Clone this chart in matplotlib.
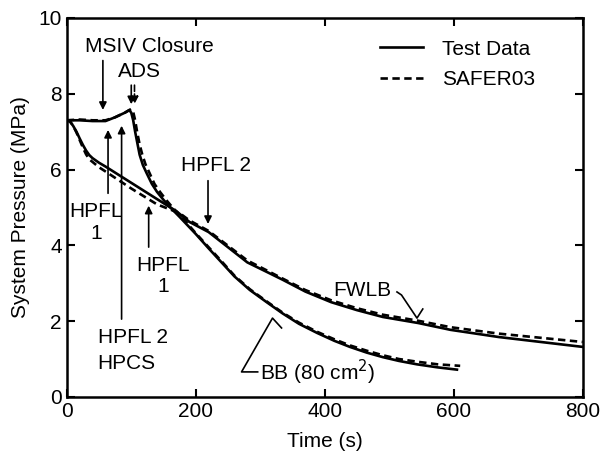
import numpy as np
import matplotlib
matplotlib.use("Agg")
import matplotlib.pyplot as plt

plt.rcParams['font.family'] = ['Liberation Sans', 'DejaVu Sans']

# Break (BB) case, 80 cm2
bb_test_t = [0, 20, 40, 60, 75, 90, 97, 100, 103, 106, 110, 113, 118, 124, 132, 140, 150, 160, 175, 200, 220, 240,
             260, 284, 310, 335, 360, 388, 415, 439, 465, 490, 515, 543, 575, 605]
bb_test_p = [7.3, 7.3, 7.28, 7.28, 7.38, 7.5, 7.57, 7.5, 7.3, 7.0, 6.65, 6.39, 6.12, 5.9, 5.62, 5.41, 5.2, 5.01, 4.75, 4.3, 3.92, 3.55,
             3.18, 2.82, 2.5, 2.2, 1.93, 1.69, 1.48, 1.32, 1.17, 1.05, 0.95, 0.86, 0.78, 0.72]
bb_safer_t = [0, 20, 40, 60, 75, 90, 100, 103, 106, 109, 113, 117, 122, 128, 136, 145, 155, 165, 178, 200, 220, 240,
              260, 284, 310, 335, 360, 388, 415, 439, 465, 490, 515, 543, 575, 610]
bb_safer_p = [7.3, 7.32, 7.3, 7.3, 7.38, 7.5, 7.6, 7.52, 7.3, 7.0, 6.66, 6.4, 6.14, 5.92, 5.62, 5.4, 5.18, 4.98, 4.75, 4.32, 3.95, 3.58,
              3.2, 2.84, 2.52, 2.22, 1.96, 1.72, 1.52, 1.36, 1.22, 1.1, 1.0, 0.93, 0.86, 0.82]

# Feedwater line break (FWLB) case
fw_test_t = [0, 5, 10, 15, 20, 25, 30, 35, 40, 50, 60, 100, 140, 170, 190, 220, 250, 280, 310, 335, 370, 410,
             450, 490, 545, 595, 670, 800]
fw_test_p = [7.3, 7.27, 7.15, 7.0, 6.82, 6.65, 6.5, 6.38, 6.3, 6.18, 6.08, 5.65, 5.22, 4.9, 4.62, 4.35, 3.95, 3.55, 3.3, 3.09, 2.78, 2.5,
             2.29, 2.11, 1.95, 1.77, 1.58, 1.32]
fw_safer_t = [0, 5, 10, 15, 20, 25, 30, 35, 40, 50, 60, 100, 140, 175, 190, 220, 250, 280, 310, 335, 370, 410,
              450, 490, 545, 595, 670, 800]
fw_safer_p = [7.3, 7.27, 7.15, 6.98, 6.78, 6.58, 6.4, 6.27, 6.2, 6.06, 5.95, 5.5, 5.08, 4.85, 4.66, 4.38, 3.99, 3.6, 3.34, 3.12, 2.82, 2.55,
              2.34, 2.17, 2.01, 1.84, 1.67, 1.45]

fs = 15
fig = plt.figure(figsize=(6.07, 4.61), dpi=100)
ax = fig.add_axes([0.110, 0.139, 0.850, 0.822])

dash = (0, (2.8, 1.7))
ax.plot(bb_test_t, bb_test_p, color='black', lw=1.9, label='Test Data')
ax.plot(bb_safer_t, bb_safer_p, color='black', lw=1.9, linestyle=dash, label='SAFER03')
ax.plot(fw_test_t, fw_test_p, color='black', lw=1.9)
ax.plot(fw_safer_t, fw_safer_p, color='black', lw=1.9, linestyle=dash)

ax.set_xlim(0, 800)
ax.set_ylim(0, 10)
ax.set_xticks([0, 200, 400, 600, 800])
ax.set_yticks([0, 2, 4, 6, 8, 10])
ax.tick_params(direction='in', length=6, width=1.5, top=True, right=True, labelsize=fs)
for s in ax.spines.values():
    s.set_linewidth(1.8)
ax.set_xlabel('Time (s)', fontsize=fs, labelpad=8)
ax.set_ylabel('System Pressure (MPa)', fontsize=fs, labelpad=6)

leg = ax.legend(loc='upper left', bbox_to_anchor=(0.59, 0.965), borderaxespad=0, frameon=False, fontsize=fs,
                handlelength=2.07, handletextpad=0.95, labelspacing=0.55)

arr = dict(arrowstyle='-|>', color='black', lw=1.2, mutation_scale=11)

# MSIV closure
ax.text(128, 9.25, 'MSIV Closure', fontsize=fs, ha='center', va='center')
ax.annotate('', xy=(56, 7.5), xytext=(56, 8.95), arrowprops=arr)
# ADS
ax.text(113, 8.6, 'ADS', fontsize=fs, ha='center', va='center')
ax.annotate('', xy=(100, 7.65), xytext=(100, 8.3), arrowprops=arr)
ax.annotate('', xy=(105, 7.65), xytext=(105, 8.3),
            arrowprops=dict(arrowstyle='-|>', color='black', lw=1.2, mutation_scale=11, linestyle='--'))

# HPFL 1 (BB)
ax.annotate('', xy=(64, 7.12), xytext=(64, 5.3), arrowprops=arr)
ax.text(45, 4.9, 'HPFL', fontsize=fs, ha='center', va='center')
ax.text(46, 4.3, '1', fontsize=fs, ha='center', va='center')
# HPFL 2 / HPCS
ax.annotate('', xy=(85, 7.23), xytext=(85, 1.98), arrowprops=arr)
ax.text(48, 1.57, 'HPFL 2', fontsize=fs, ha='left', va='center')
ax.text(48, 0.88, 'HPCS', fontsize=fs, ha='left', va='center')
# HPFL 1 (FWLB)
ax.annotate('', xy=(127, 5.12), xytext=(127, 3.88), arrowprops=arr)
ax.text(149, 3.48, 'HPFL', fontsize=fs, ha='center', va='center')
ax.text(149, 2.92, '1', fontsize=fs, ha='center', va='center')
# HPFL 2 (FWLB)
ax.text(232, 6.1, 'HPFL 2', fontsize=fs, ha='center', va='center')
ax.annotate('', xy=(219, 4.49), xytext=(219, 5.78), arrowprops=arr)

# FWLB label with leader
ax.text(459, 2.8, 'FWLB', fontsize=fs, ha='center', va='center')
ax.plot([512, 519, 543, 552], [2.77, 2.69, 2.08, 2.32], color='black', lw=1.2)

# BB label with leader
ax.text(300, 0.65, 'BB (80 cm$^2$)', fontsize=fs, ha='left', va='center')
ax.plot([296, 271, 319, 333], [0.66, 0.66, 2.08, 1.82], color='black', lw=1.2)

fig.savefig('out.png', dpi=100)
